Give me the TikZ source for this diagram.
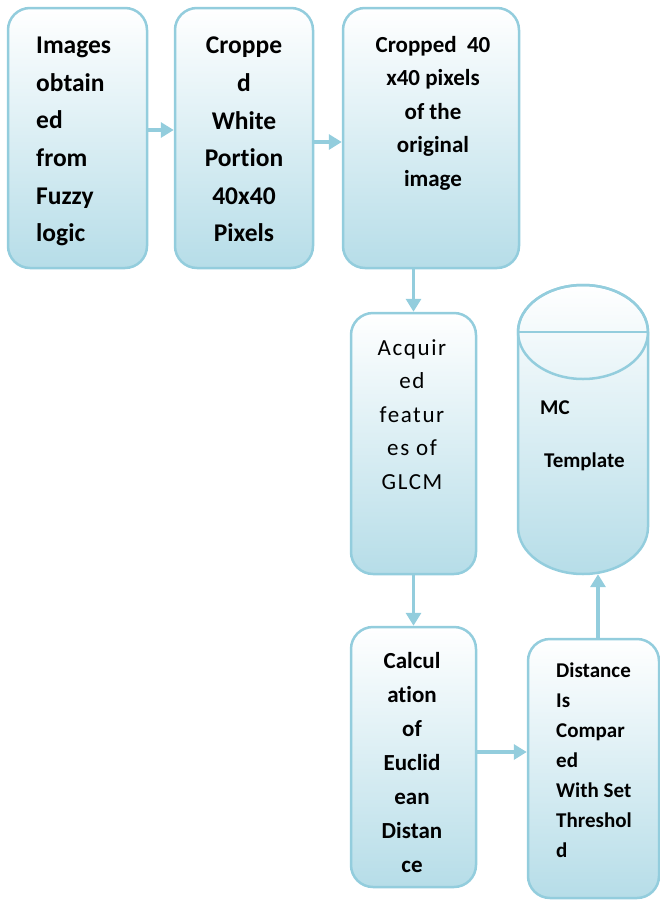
\documentclass[tikz,border=0pt]{standalone}
\usepackage{fontspec}
\setmainfont[RawFeature=-liga]{Carlito}
\newfontfamily\spacedfont[LetterSpace=7,RawFeature=-liga]{Carlito}
\usetikzlibrary{arrows.meta,calc}
\definecolor{edgeblue}{RGB}{147,205,221}
\definecolor{fillblue}{RGB}{182,221,232}
\tikzset{
  box/.style={draw=edgeblue, line width=2.5pt, rounded corners=22pt,
    top color=white, bottom color=fillblue, inner sep=0pt},
  arr/.style={draw=edgeblue, line width=3.5pt,
    -{Triangle[length=13pt,width=15pt]}},
  txt/.style={inner sep=0pt, text=black}
}
\begin{document}
\begin{tikzpicture}[x=1pt,y=-1pt]
\useasboundingbox (0,0) rectangle (660,900);
% boxes
\node[box, minimum width=139pt, minimum height=260pt] (b1) at (77.5,138) {};
\node[box, minimum width=138pt, minimum height=260pt] (b2) at (244,138) {};
\node[box, minimum width=176pt, minimum height=260pt] (b3) at (431,138) {};
\node[box, minimum width=125pt, minimum height=261pt] (b4) at (413.5,443.5) {};
\node[box, minimum width=125pt, minimum height=260pt] (b5) at (413.5,757) {};
\node[box, minimum width=131pt, minimum height=259pt] (b6) at (593.5,768.5) {};
% cylinder
\shade[top color=white, bottom color=fillblue]
  (518,332) -- (518,527) arc[start angle=180, end angle=0, x radius=65, y radius=47]
  -- (648,332) arc[start angle=0, end angle=-180, x radius=65, y radius=47] -- cycle;
\draw[edgeblue, line width=2.5pt]
  (518,332) -- (518,527) arc[start angle=180, end angle=0, x radius=65, y radius=47]
  -- (648,332) arc[start angle=0, end angle=-180, x radius=65, y radius=47] -- cycle;
\draw[edgeblue, line width=2.5pt] (583,332) ellipse [x radius=65, y radius=47];
\draw[edgeblue, line width=2.5pt] (518,332) -- (648,332);
\node[inner sep=0pt, minimum width=130pt, minimum height=289pt] (cyl) at (583,429.5) {};
% texts
\node[txt, anchor=north west, align=left, font={\fontsize{25.5}{37.6}\selectfont\bfseries}] (t1) at (36,37)
  {Images\\obtain\\ed\\from\\Fuzzy\\logic};
\node[txt, anchor=north, align=center, font={\fontsize{25.5}{37.6}\selectfont\bfseries}] (t2) at (244,37)
  {Croppe\\d\\White\\Portion\\40x40\\Pixels};
\node[txt, anchor=north, align=center, font={\fontsize{23}{33.5}\selectfont\bfseries}] (t3) at (433,36)
  {Cropped\ \ 40\\x40 pixels\\of the\\original\\image};
\node[txt, anchor=north, align=center, font={\fontsize{23}{33.5}\selectfont\spacedfont}] (t4) at (412,339)
  {Acquir\\ed\\featur\\es of\\GLCM};
\node[txt, anchor=north, align=center, font={\fontsize{23}{34}\selectfont\bfseries}] (t5) at (412,652)
  {Calcul\\ation\\of\\Euclid\\ean\\Distan\\ce};
\node[txt, anchor=north west, align=left, font={\fontsize{21}{30}\selectfont\bfseries}] (t6) at (556,663)
  {Distance\\Is\\Compar\\ed\\With Set\\Threshol\\d};
\node[txt, anchor=north west, font={\fontsize{21}{25}\selectfont\bfseries}] (t7) at (540,401) {MC};
\node[txt, anchor=north west, font={\fontsize{21}{25}\selectfont\bfseries}] (t8) at (544,453) {Template};
% connectors
\draw[arr] ([yshift=8pt]b1.east) -- ([yshift=8pt]b2.west);
\draw[arr] ([yshift=-4pt]b2.east) -- ([yshift=-4pt]b2.east -| b3.west);
\draw[arr] (b3.south -| b4.north) -- (b4.north);
\draw[arr] (b4.south) -- (b5.north);
\draw[arr] ([yshift=5pt]b5.east) -- ([yshift=5pt]b5.east -| b6.west);
\draw[arr] ([xshift=4.5pt]b6.north) -- ([xshift=15pt]cyl.south);
\end{tikzpicture}
\end{document}
